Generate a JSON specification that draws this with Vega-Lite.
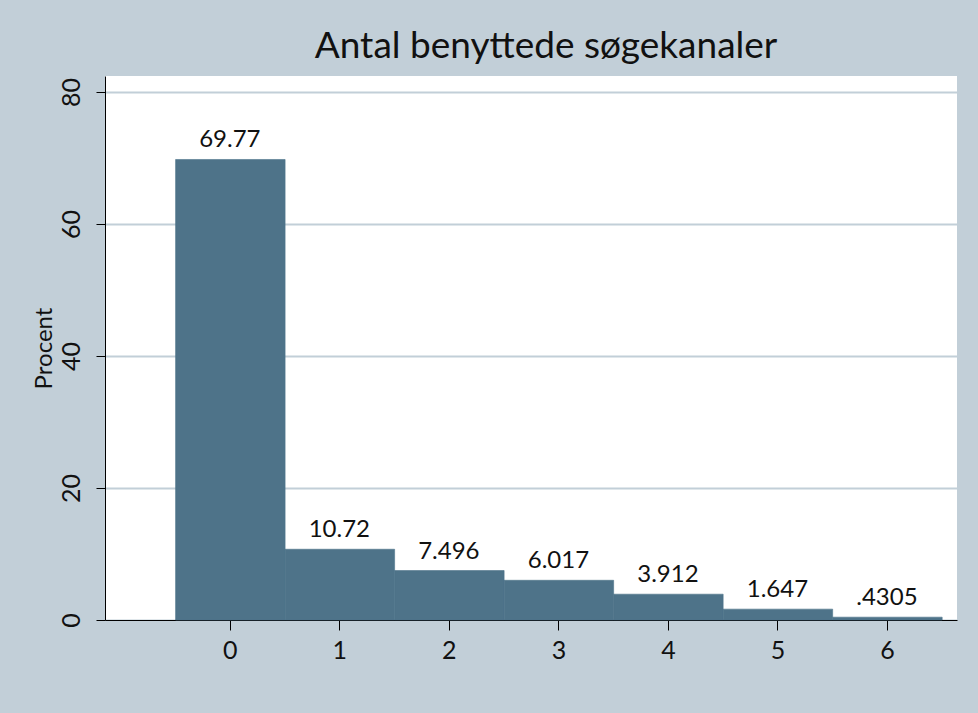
{
  "$schema": "https://vega.github.io/schema/vega-lite/v6.json",
  "width": 852,
  "height": 544,
  "autosize": "none",
  "padding": {"left": 105, "top": 76, "right": 21, "bottom": 93},
  "background": "#c2cfd8",
  "view": {"fill": "white", "stroke": null},
  "title": {
    "text": "Antal benyttede søgekanaler",
    "font": "Lato",
    "fontSize": 37,
    "fontWeight": "normal",
    "color": "#111111",
    "anchor": "middle",
    "dx": 15,
    "dy": 33,
    "offset": 14,
    "baseline": "alphabetic"
  },
  "data": {
    "values": [
      {"k": 0, "start": -0.5, "end": 0.5, "pct": 69.77, "label": "69.77"},
      {"k": 1, "start": 0.5, "end": 1.5, "pct": 10.72, "label": "10.72"},
      {"k": 2, "start": 1.5, "end": 2.5, "pct": 7.496, "label": "7.496"},
      {"k": 3, "start": 2.5, "end": 3.5, "pct": 6.017, "label": "6.017"},
      {"k": 4, "start": 3.5, "end": 4.5, "pct": 3.912, "label": "3.912"},
      {"k": 5, "start": 4.5, "end": 5.5, "pct": 1.647, "label": "1.647"},
      {"k": 6, "start": 5.5, "end": 6.5, "pct": 0.4305, "label": ".4305"}
    ]
  },
  "layer": [
    {
      "mark": {"type": "bar", "color": "#4e7389", "stroke": "#4e7389", "strokeWidth": 0.6, "binSpacing": 0},
      "encoding": {
        "x": {
          "field": "start",
          "type": "quantitative",
          "bin": "binned",
          "scale": {"domain": [-1.14, 6.64], "nice": false, "zero": false},
          "axis": {
            "values": [0, 1, 2, 3, 4, 5, 6],
            "format": "d",
            "title": null,
            "grid": false,
            "domainColor": "#000000",
            "domainWidth": 1,
            "tickColor": "#000000",
            "tickSize": 10,
            "labelFont": "Lato",
            "labelFontSize": 25,
            "labelColor": "#111111",
            "labelPadding": 8,
            "labelFlush": false,
            "labelOverlap": false
          }
        },
        "x2": {"field": "end"},
        "y": {
          "field": "pct",
          "type": "quantitative",
          "scale": {"domain": [0, 82.42], "nice": false},
          "axis": {
            "values": [0, 20, 40, 60, 80],
            "title": "Procent",
            "titleFont": "Lato",
            "titleFontSize": 24,
            "titleFontWeight": "normal",
            "titleColor": "#111111",
            "titlePadding": 3,
            "grid": true,
            "gridColor": "#c2cfd8",
            "gridWidth": 2,
            "domainColor": "#000000",
            "domainWidth": 1,
            "tickColor": "#000000",
            "tickSize": 9,
            "labelFont": "Lato",
            "labelFontSize": 25,
            "labelColor": "#111111",
            "labelAngle": 270,
            "labelAlign": "center",
            "labelBaseline": "bottom",
            "labelPadding": 12,
            "labelFlush": false,
            "labelOverlap": false
          }
        }
      }
    },
    {
      "mark": {"type": "text", "font": "Lato", "fontSize": 24, "color": "#111111", "baseline": "alphabetic", "dy": -12},
      "encoding": {
        "x": {"field": "k", "type": "quantitative"},
        "y": {"field": "pct", "type": "quantitative"},
        "text": {"field": "label", "type": "nominal"}
      }
    }
  ]
}
